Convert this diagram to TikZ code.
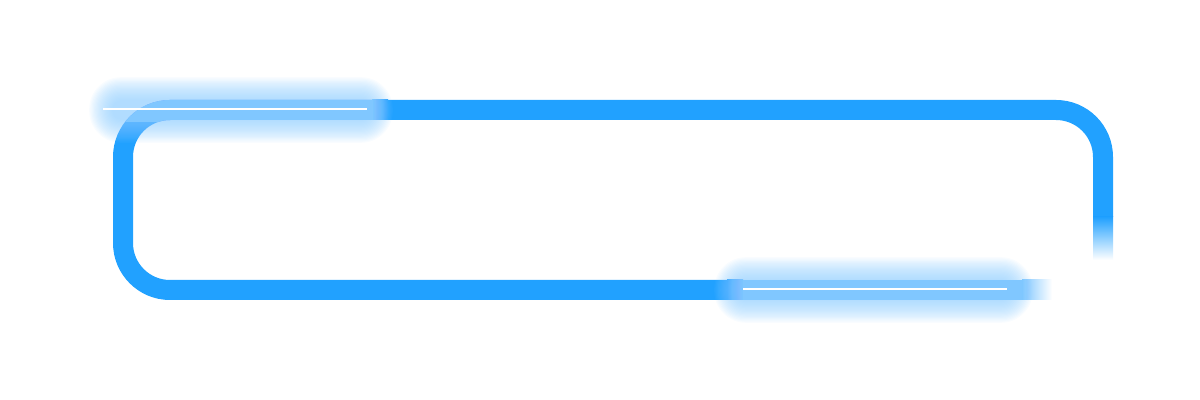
\documentclass[tikz,border=0pt]{standalone}
\usepackage{tikz}
\definecolor{frameblue}{rgb}{0.13, 0.63, 1}
\definecolor{bandblue}{rgb}{0.5, 0.78, 1}
\definecolor{haloblue}{rgb}{0.55, 0.8, 1}

\begin{document}
\begin{tikzpicture}[x=0.5pt, y=0.5pt,
	frame/.style={draw=frameblue, line width=10pt, rounded corners=23.5pt},
	halo/.style={fill=haloblue, opacity=0.055}]
		\useasboundingbox (0,0) rectangle (1200,400);
		\draw [frame] (729,110) -- (123,110) -- (123,290) -- (1103,290) -- (1103,183);
		\shade [top color=frameblue, bottom color=white] (1093,183) rectangle (1113,140);
		% light bands
		\begin{scope}
			\clip (90,278) rectangle (372,302);
			\draw [frame, draw=bandblue] (729,110) -- (123,110) -- (123,290) -- (1103,290) -- (1103,183);
		\end{scope}
		\shade [left color=bandblue, right color=frameblue] (372,280) rectangle (388,300);
		\shade [left color=frameblue, right color=bandblue] (727,100) rectangle (743,120);
		\fill [bandblue] (743,100) rectangle (1022,120);
		\shade [left color=bandblue, right color=white] (1022,100) rectangle (1052,120);
		% glow
		\foreach \k in {0,...,19}{
			\pgfmathsetmacro{\r}{4.5+0.6*\k}
			\fill [halo, rounded corners=\r pt] (112-1.2*\k, 280-1.2*\k) rectangle (370+1.2*\k, 300+1.2*\k);
			\fill [halo, rounded corners=\r pt] (737-1.2*\k, 100-1.2*\k) rectangle (1010+1.2*\k, 120+1.2*\k);
		}
		\draw [white, line width=1pt] (103,291) -- (367,291);
		\draw [white, line width=1pt] (743,111) -- (1007,111);
	\end{tikzpicture}
\end{document}
